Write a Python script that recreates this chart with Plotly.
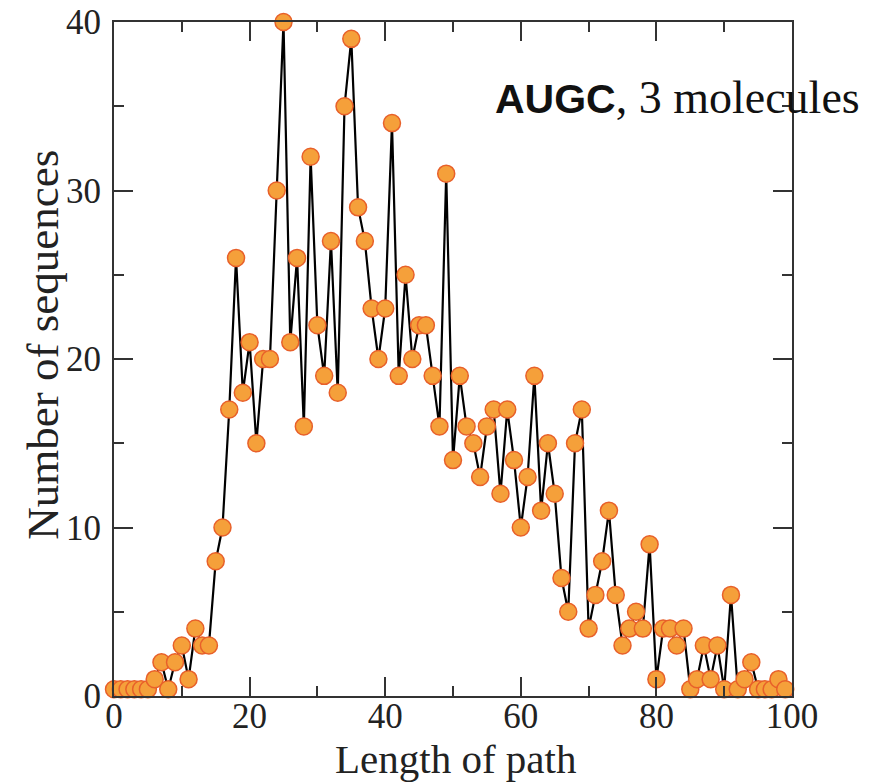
import plotly.graph_objects as go

# Path length histogram for AUGC alphabet, 3 molecules
path_length = list(range(0, 100))
num_sequences = [
    0.4, 0.4, 0.4, 0.4, 0.4, 0.4, 1, 2, 0.4, 2,
    3, 1, 4, 3, 3, 8, 10, 17, 26, 18,
    21, 15, 20, 20, 30, 40, 21, 26, 16, 32,
    22, 19, 27, 18, 35, 39, 29, 27, 23, 20,
    23, 34, 19, 25, 20, 22, 22, 19, 16, 31,
    14, 19, 16, 15, 13, 16, 17, 12, 17, 14,
    10, 13, 19, 11, 15, 12, 7, 5, 15, 17,
    4, 6, 8, 11, 6, 3, 4, 5, 4, 9,
    1, 4, 4, 3, 4, 0.4, 1, 3, 1, 3,
    0.4, 6, 0.4, 1, 2, 0.4, 0.4, 0.4, 1, 0.4,
]
x_ticks = [0, 20, 40, 60, 80, 100]
y_ticks = [0, 10, 20, 30, 40]

SERIF = "Liberation Serif, Times New Roman, serif"
AXIS_COLOR = "#333333"
TEXT_COLOR = "#222222"

fig = go.Figure()
fig.add_trace(go.Scatter(
    x=path_length,
    y=num_sequences,
    mode="lines+markers",
    line=dict(color="black", width=2.2),
    marker=dict(size=17, color="#F5A03A",
                line=dict(color="#E8602A", width=1.5)),
    cliponaxis=False,
    showlegend=False,
))

axis_common = dict(
    showline=True, linecolor=AXIS_COLOR, linewidth=2,
    mirror="ticks", ticks="inside", ticklen=19, tickwidth=1.5,
    tickcolor=AXIS_COLOR, showgrid=False, zeroline=False,
    automargin=False,
    tickfont=dict(family=SERIF, size=35, color=TEXT_COLOR),
)

fig.update_xaxes(
    range=[0, 100], tickvals=x_ticks, ticktext=[str(v) for v in x_ticks],
    minor=dict(dtick=10, ticks="inside", ticklen=10, tickwidth=1.5,
               tickcolor=AXIS_COLOR),
    ticklabelstandoff=-12,
    **axis_common,
)
fig.update_yaxes(
    range=[0, 40], tickvals=y_ticks, ticktext=[str(v) for v in y_ticks],
    minor=dict(dtick=5, ticks="inside", ticklen=10, tickwidth=1.5,
               tickcolor=AXIS_COLOR),
    ticklabelstandoff=4,
    **axis_common,
)

# Axis titles
fig.add_annotation(
    xref="paper", yref="paper", x=0.504, y=-0.093,
    xanchor="center", yanchor="middle", showarrow=False,
    text="Length of path",
    font=dict(family=SERIF, size=41, color=TEXT_COLOR),
)
fig.add_annotation(
    xref="paper", yref="paper", x=-0.104, y=0.522,
    xanchor="center", yanchor="middle", showarrow=False, textangle=-90,
    text="Number of sequences",
    font=dict(family=SERIF, size=45, color=TEXT_COLOR),
)

# Panel label
fig.add_annotation(
    xref="paper", yref="paper", x=1.103, y=0.888,
    xanchor="right", yanchor="middle", showarrow=False,
    text=("<span style='font-family:Liberation Sans, Arial, sans-serif;"
          "font-weight:bold;font-size:41px'>AUGC</span>, 3 molecules"),
    font=dict(family=SERIF, size=46, color="#111111"),
)

fig.update_layout(
    width=882, height=782,
    margin=dict(l=114, r=90, t=22, b=86),
    paper_bgcolor="white", plot_bgcolor="white",
)

fig.write_html("out.html")
